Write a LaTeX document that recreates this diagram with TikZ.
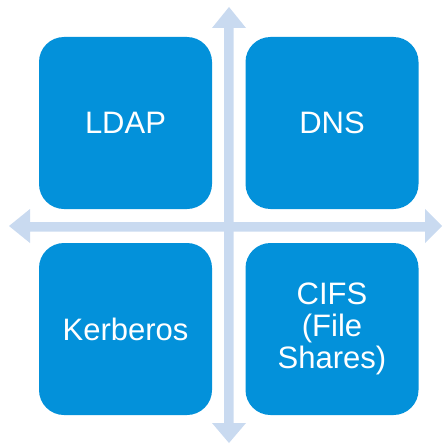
\documentclass[tikz,border=0pt]{standalone}
\usepackage{fontspec}
\setmainfont{Liberation Sans}
\definecolor{tileblue}{RGB}{3,145,218}
\definecolor{axisblue}{RGB}{201,218,240}
\begin{document}
\begin{tikzpicture}[x=1pt,y=-1pt,
  tile/.style={fill=tileblue, rounded corners=25pt, minimum width=173pt, minimum height=172pt,
    inner sep=0pt, text=white, align=center, font=\fontsize{31}{32}\selectfont},
  axis/.style={fill=axisblue}]
\useasboundingbox (0,0) rectangle (443,444);

% cross of double-headed arrows
\fill[axis] (224,28) -- (212,28) -- (229,7) -- (246,28) -- (233.5,28)
  -- (233.5,423) -- (246,423) -- (229,443) -- (212,423) -- (224,423) -- cycle;
\fill[axis] (30,222) -- (30,209) -- (9,226) -- (30,243) -- (30,231.5)
  -- (425,231.5) -- (425,243) -- (442,226) -- (425,209) -- (425,222) -- cycle;

% four tiles
\node[tile] (ldap) at (125.5,123) {LDAP};
\node[tile] (dns) at (332,123) {DNS};
\node[tile] (krb) at (125.5,329) {Kerberos};
\node[tile] (cifs) at (332,329) {CIFS\\(File\\Shares)};
\end{tikzpicture}
\end{document}
